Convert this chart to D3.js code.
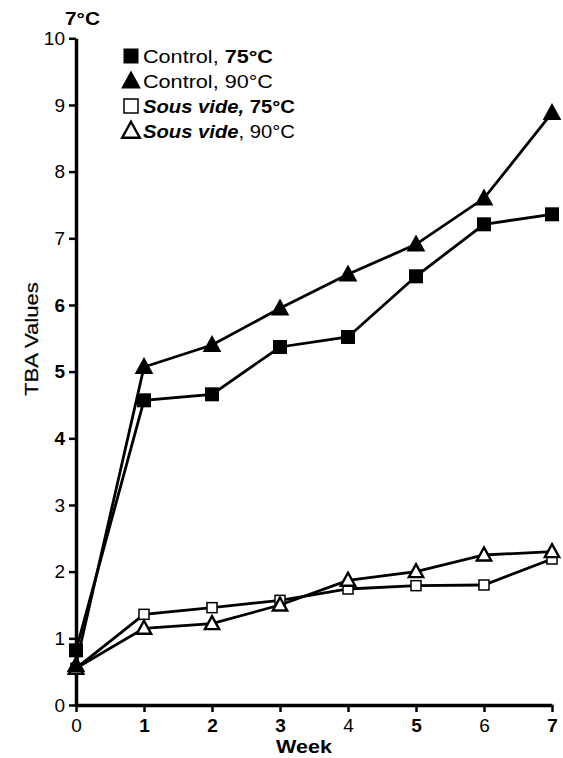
<!DOCTYPE html>
<html><head><meta charset="utf-8">
<script src="https://cdn.jsdelivr.net/npm/d3@7"></script>
<style>body{margin:0;background:#fff}svg{display:block}text{font-family:"Liberation Sans",Arial,sans-serif;fill:#000}</style>
</head><body>
<script>
const weeks = [0,1,2,3,4,5,6,7];
const control75 = [0.82,4.57,4.66,5.37,5.52,6.43,7.21,7.36];
const control90 = [0.6,5.07,5.40,5.95,6.46,6.91,7.60,8.88];
const sousVide75 = [0.55,1.36,1.46,1.57,1.74,1.79,1.80,2.19];
const sousVide90 = [0.55,1.15,1.22,1.50,1.87,2.00,2.25,2.30];
const yTicks = [0,1,2,3,4,5,6,7,8,9,10];

const W=563,H=758;
const svg=d3.select("body").append("svg").attr("width",W).attr("height",H);
const x=d3.scaleLinear().domain([0,7]).range([76,552]);
const y=d3.scaleLinear().domain([0,10]).range([705,38.3]);

const series=[
 {v:control75,shape:"square",fill:true,size:14},
 {v:control90,shape:"triangle",fill:true,size:17},
 {v:sousVide75,shape:"square",fill:false,size:10},
 {v:sousVide90,shape:"triangle",fill:false,size:13}
];

function stretch(sel,targetW){
  const node=sel.node(); const w=node.getComputedTextLength();
  const sx=targetW/w; const x0=+sel.attr("x"), y0=+sel.attr("y");
  sel.attr("x",0).attr("y",0).attr("transform",`translate(${x0},${y0}) scale(${sx},1)`);
}

// axes
const ya=svg.append("g").attr("transform","translate(76,0)").call(d3.axisLeft(y).tickValues(yTicks).tickFormat(d3.format("d")).tickSize(7).tickPadding(4).tickSizeOuter(0));
const xa=svg.append("g").attr("transform","translate(0,705)").call(d3.axisBottom(x).tickValues(weeks).tickFormat(d3.format("d")).tickSize(7).tickPadding(7).tickSizeOuter(0));
[ya,xa].forEach(a=>{a.select(".domain").attr("stroke","#000").attr("stroke-width",3.5);a.selectAll(".tick line").attr("stroke","#000").attr("stroke-width",2.5);a.selectAll("text").attr("font-size",19).attr("font-family","Liberation Sans, Arial, sans-serif").attr("fill","#000");});
xa.selectAll("text").attr("font-weight",d=>[1,2,3,5,7].includes(d)?"bold":"normal");
ya.selectAll("text").attr("font-weight",d=>[4,5,6].includes(d)?"bold":"normal");

const wk=svg.append("text").attr("x",276).attr("y",753).attr("font-size",19).attr("font-weight","bold").text("Week");
stretch(wk,56);
const tba=svg.append("text").attr("x",0).attr("y",0).attr("font-size",19).attr("stroke","#000").attr("stroke-width",0.2).text("TBA Values");
{const w=tba.node().getComputedTextLength(); tba.attr("transform",`translate(38,396) rotate(-90) scale(${114/w},1)`);}
const tc=svg.append("text").attr("x",65).attr("y",25).attr("font-size",19).attr("font-weight","bold").text("7°C");
stretch(tc,35);

const line=d3.line().x((d,i)=>x(weeks[i])).y(d=>y(d));
function marker(g,s,cx,cy){
  const h=s.size/2;
  if(s.shape==="square"){
    g.append("rect").attr("x",cx-h).attr("y",cy-h).attr("width",s.size).attr("height",s.size)
     .attr("fill",s.fill?"#000":"#fff").attr("stroke","#000").attr("stroke-width",s.fill?0:1.5);
  } else {
    const t=s.size;
    g.append("path").attr("d",`M${cx},${cy-t*0.58}L${cx+t*0.55},${cy+t*0.42}L${cx-t*0.55},${cy+t*0.42}Z`)
     .attr("fill",s.fill?"#000":"#fff").attr("stroke","#000").attr("stroke-width",s.fill?0:2.4).attr("stroke-linejoin","miter");
  }
}
series.forEach(s=>{
  svg.append("path").datum(s.v).attr("d",line).attr("fill","none").attr("stroke","#000").attr("stroke-width",2.8);
});
[2,3,0,1].forEach(k=>{const s=series[k];const g=svg.append("g");s.v.forEach((d,i)=>marker(g,s,x(weeks[i]),y(d)));});

// legend
const leg=[
 {s:series[0],size:15,w:130,parts:[["Control, ","normal","normal"],["75°C","bold","normal"]]},
 {s:series[1],size:18,w:130,parts:[["Control, 90°C","normal","normal"]]},
 {s:series[2],size:14,w:152,parts:[["Sous vide,","bold","italic"],[" 75°C","bold","normal"]]},
 {s:series[3],size:16,w:152,parts:[["Sous vide","bold","italic"],[", 90°C","normal","normal"]]}
];
const rowsY=[56,81,106,131];
leg.forEach((l,i)=>{
  const g=svg.append("g");
  const ls=Object.assign({},l.s,{size:l.size});
  marker(g,ls,131,rowsY[i]);
  const t=svg.append("text").attr("x",143).attr("y",rowsY[i]+7).attr("font-size",19);
  l.parts.forEach(p=>t.append("tspan").attr("font-weight",p[1]).attr("font-style",p[2]).text(p[0]));
  stretch(t,l.w);
});
</script>
</body></html>
